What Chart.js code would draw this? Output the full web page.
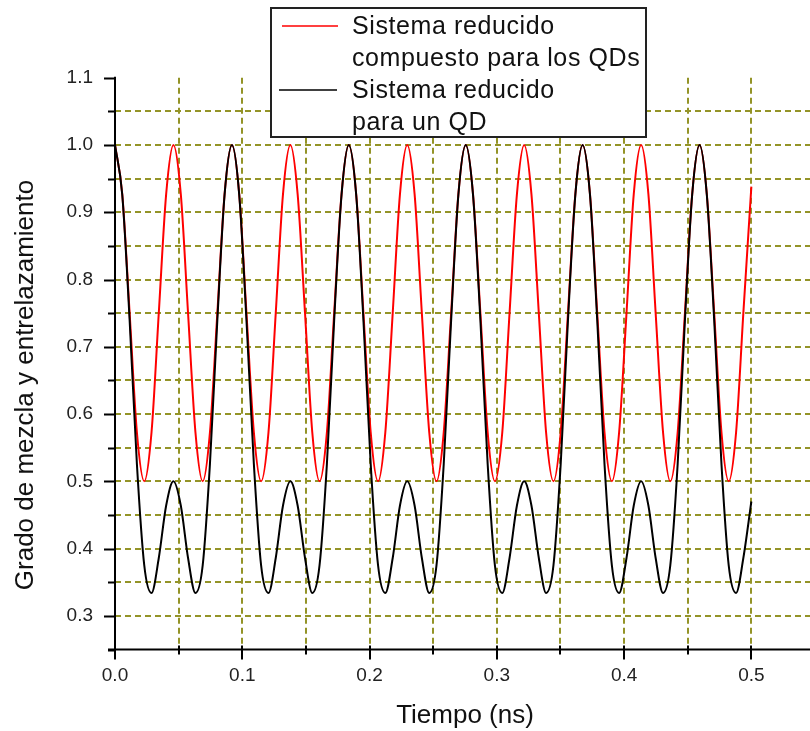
<!DOCTYPE html>
<html>
<head>
<meta charset="utf-8">
<script src="https://cdn.jsdelivr.net/npm/chart.js@4"></script>
<style>
  html, body { margin: 0; padding: 0; background: #fff; overflow: hidden; }
  #wrap { width: 810px; height: 731px; overflow: hidden; }
</style>
</head>
<body>
<div id="wrap"><canvas id="mixChart" width="830" height="731"></canvas></div>
<script>
// time axis (ns)
const tiempo = [
  0, 0.0057, 0.0115, 0.0172, 0.0230, 0.0287, 0.0344, 0.0402,
  0.0459, 0.0517, 0.0574, 0.0632, 0.0689, 0.0746, 0.0804, 0.0861,
  0.0919, 0.0976, 0.1033, 0.1091, 0.1148, 0.1206, 0.1263, 0.1320,
  0.1378, 0.1435, 0.1493, 0.1550, 0.1607, 0.1665, 0.1722, 0.1780,
  0.1837, 0.1895, 0.1952, 0.2009, 0.2067, 0.2124, 0.2182, 0.2239,
  0.2296, 0.2354, 0.2411, 0.2469, 0.2526, 0.2583, 0.2641, 0.2698,
  0.2756, 0.2813, 0.2871, 0.2928, 0.2985, 0.3043, 0.3100, 0.3158,
  0.3215, 0.3272, 0.3330, 0.3387, 0.3445, 0.3502, 0.3559, 0.3617,
  0.3674, 0.3732, 0.3789, 0.3846, 0.3904, 0.3961, 0.4019, 0.4076,
  0.4134, 0.4191, 0.4248, 0.4306, 0.4363, 0.4421, 0.4478, 0.4535,
  0.4593, 0.4650, 0.4708, 0.4765, 0.4822, 0.4880, 0.4937, 0.5
];

// reduced system, composite for the QDs
const sistemaCompuesto = [
  1.0, 0.927, 0.75, 0.573, 0.5, 0.573, 0.75, 0.927,
  1.0, 0.927, 0.75, 0.573, 0.5, 0.573, 0.75, 0.927,
  1.0, 0.927, 0.75, 0.573, 0.5, 0.573, 0.75, 0.927,
  1.0, 0.927, 0.75, 0.573, 0.5, 0.573, 0.75, 0.927,
  1.0, 0.927, 0.75, 0.573, 0.5, 0.573, 0.75, 0.927,
  1.0, 0.927, 0.75, 0.573, 0.5, 0.573, 0.75, 0.927,
  1.0, 0.927, 0.75, 0.573, 0.5, 0.573, 0.75, 0.927,
  1.0, 0.927, 0.75, 0.573, 0.5, 0.573, 0.75, 0.927,
  1.0, 0.927, 0.75, 0.573, 0.5, 0.573, 0.75, 0.927,
  1.0, 0.927, 0.75, 0.573, 0.5, 0.573, 0.75, 0.927,
  1.0, 0.927, 0.75, 0.573, 0.5, 0.573, 0.75, 0.938
];

// reduced system for a single QD
const sistemaUnQD = [
  1.0, 0.926, 0.739, 0.526, 0.375, 0.334, 0.386, 0.464,
  0.5, 0.464, 0.386, 0.334, 0.375, 0.526, 0.739, 0.926,
  1.0, 0.926, 0.739, 0.526, 0.375, 0.334, 0.386, 0.464,
  0.5, 0.464, 0.386, 0.334, 0.375, 0.526, 0.739, 0.926,
  1.0, 0.926, 0.739, 0.526, 0.375, 0.334, 0.386, 0.464,
  0.5, 0.464, 0.386, 0.334, 0.375, 0.526, 0.739, 0.926,
  1.0, 0.926, 0.739, 0.526, 0.375, 0.334, 0.386, 0.464,
  0.5, 0.464, 0.386, 0.334, 0.375, 0.526, 0.739, 0.926,
  1.0, 0.926, 0.739, 0.526, 0.375, 0.334, 0.386, 0.464,
  0.5, 0.464, 0.386, 0.334, 0.375, 0.526, 0.739, 0.926,
  1.0, 0.926, 0.739, 0.526, 0.375, 0.334, 0.386, 0.470
];

const serieNombres = [
  ['Sistema reducido', 'compuesto para los QDs'],
  ['Sistema reducido', 'para un QD']
];
const serieColores = ['#ff0000', '#000000'];

const tituloX = 'Tiempo (ns)';
const tituloY = 'Grado de mezcla y entrelazamiento';

const FONT = '"Liberation Sans", Arial, sans-serif';
const OLIVE = 'rgb(148,148,40)';

function isMajor(v) {
  return Math.abs(v * 10 - Math.round(v * 10)) < 1e-6;
}

// axes, tick marks, titles and the boxed legend
const decorPlugin = {
  id: 'decor',
  afterDraw(chart) {
    const ctx = chart.ctx;
    const xs = chart.scales.x, ys = chart.scales.y;
    const area = chart.chartArea;
    ctx.save();
    ctx.strokeStyle = '#000';
    ctx.lineWidth = 2;
    ctx.setLineDash([]);

    // axis lines
    ctx.beginPath();
    ctx.moveTo(area.left, area.top - 1);
    ctx.lineTo(area.left, area.bottom + 9);
    ctx.moveTo(area.left - 7, area.bottom);
    ctx.lineTo(chart.width, area.bottom);
    ctx.stroke();

    // tick marks
    ctx.beginPath();
    ys.ticks.forEach(t => {
      const y = Math.round(ys.getPixelForValue(t.value)) + 0.5;
      const len = isMajor(t.value) ? 11 : 7;
      ctx.moveTo(area.left - len, y);
      ctx.lineTo(area.left, y);
    });
    xs.ticks.forEach(t => {
      const x = Math.round(xs.getPixelForValue(t.value));
      const len = isMajor(t.value) ? 10 : 5;
      ctx.moveTo(x, area.bottom - 4);
      ctx.lineTo(x, area.bottom + len);
    });
    ctx.stroke();

    // axis titles
    ctx.fillStyle = '#111';
    ctx.font = '26px ' + FONT;
    ctx.textAlign = 'center';
    ctx.textBaseline = 'alphabetic';
    ctx.fillText(tituloX, (area.left + area.right) / 2, 723);
    ctx.save();
    ctx.translate(33, 385);
    ctx.rotate(-Math.PI / 2);
    ctx.fillText(tituloY, 0, 0);
    ctx.restore();

    // legend
    const bx = 271, by = 8, bw = 375, bh = 129;
    ctx.fillStyle = '#fff';
    ctx.fillRect(bx, by, bw, bh);
    ctx.strokeStyle = '#222';
    ctx.lineWidth = 2;
    ctx.strokeRect(bx, by, bw, bh);

    const rows = [
      { sample: [282, 338, 26], color: serieColores[0], lines: serieNombres[0], base: 34 },
      { sample: [279, 337, 90], color: serieColores[1], lines: serieNombres[1], base: 98 }
    ];
    ctx.font = '25px ' + FONT;
    ctx.letterSpacing = '0.6px';
    ctx.textAlign = 'left';
    rows.forEach(r => {
      ctx.strokeStyle = r.color;
      ctx.lineWidth = 1.6;
      ctx.beginPath();
      ctx.moveTo(r.sample[0], r.sample[2]);
      ctx.lineTo(r.sample[1], r.sample[2]);
      ctx.stroke();
      ctx.fillStyle = '#111';
      r.lines.forEach((txt, i) => ctx.fillText(txt, 352, r.base + i * 32));
    });
    ctx.restore();
  }
};

const gridColor = (ctx, edges) => {
  const v = ctx.tick ? ctx.tick.value : null;
  if (v === null) return 'rgba(0,0,0,0)';
  for (const e of edges) if (Math.abs(v - e) < 1e-6) return 'rgba(0,0,0,0)';
  return OLIVE;
};

const puntos = serie => tiempo.map((t, i) => ({ x: t, y: serie[i] }));

new Chart(document.getElementById('mixChart').getContext('2d'), {
  type: 'line',
  data: {
    datasets: [
      {
        label: serieNombres[0].join(' '),
        data: puntos(sistemaCompuesto),
        borderColor: serieColores[0],
        borderWidth: 2,
        pointRadius: 0,
        cubicInterpolationMode: 'monotone',
        fill: false,
        order: 1
      },
      {
        label: serieNombres[1].join(' '),
        data: puntos(sistemaUnQD),
        borderColor: serieColores[1],
        borderWidth: 2,
        pointRadius: 0,
        cubicInterpolationMode: 'monotone',
        fill: false,
        order: 0
      }
    ]
  },
  options: {
    responsive: false,
    animation: false,
    layout: { padding: { left: 0, top: 77.7, right: 11, bottom: 0 } },
    plugins: { legend: { display: false }, tooltip: { enabled: false } },
    scales: {
      x: {
        type: 'linear',
        min: 0,
        max: 0.55,
        afterFit: s => { s.height = 81.5; },
        border: { display: false, dash: [6, 4] },
        grid: {
          drawTicks: false,
          lineWidth: 2,
          color: c => gridColor(c, [0, 0.55])
        },
        ticks: {
          stepSize: 0.05,
          autoSkip: false,
          maxRotation: 0,
          padding: 15,
          color: '#222',
          font: { family: FONT, size: 19 },
          callback: v => (isMajor(v) && v < 0.54 ? v.toFixed(1) : '')
        }
      },
      y: {
        min: 0.25,
        max: 1.1,
        afterFit: s => { s.width = 115; },
        border: { display: false, dash: [6, 4] },
        grid: {
          drawTicks: false,
          lineWidth: 2,
          color: c => gridColor(c, [0.25, 1.1])
        },
        ticks: {
          stepSize: 0.05,
          autoSkip: false,
          padding: 22,
          color: '#222',
          font: { family: FONT, size: 19 },
          callback: v => (isMajor(v) && v > 0.26 ? v.toFixed(1) : '')
        }
      }
    }
  },
  plugins: [decorPlugin]
});
</script>
</body>
</html>
